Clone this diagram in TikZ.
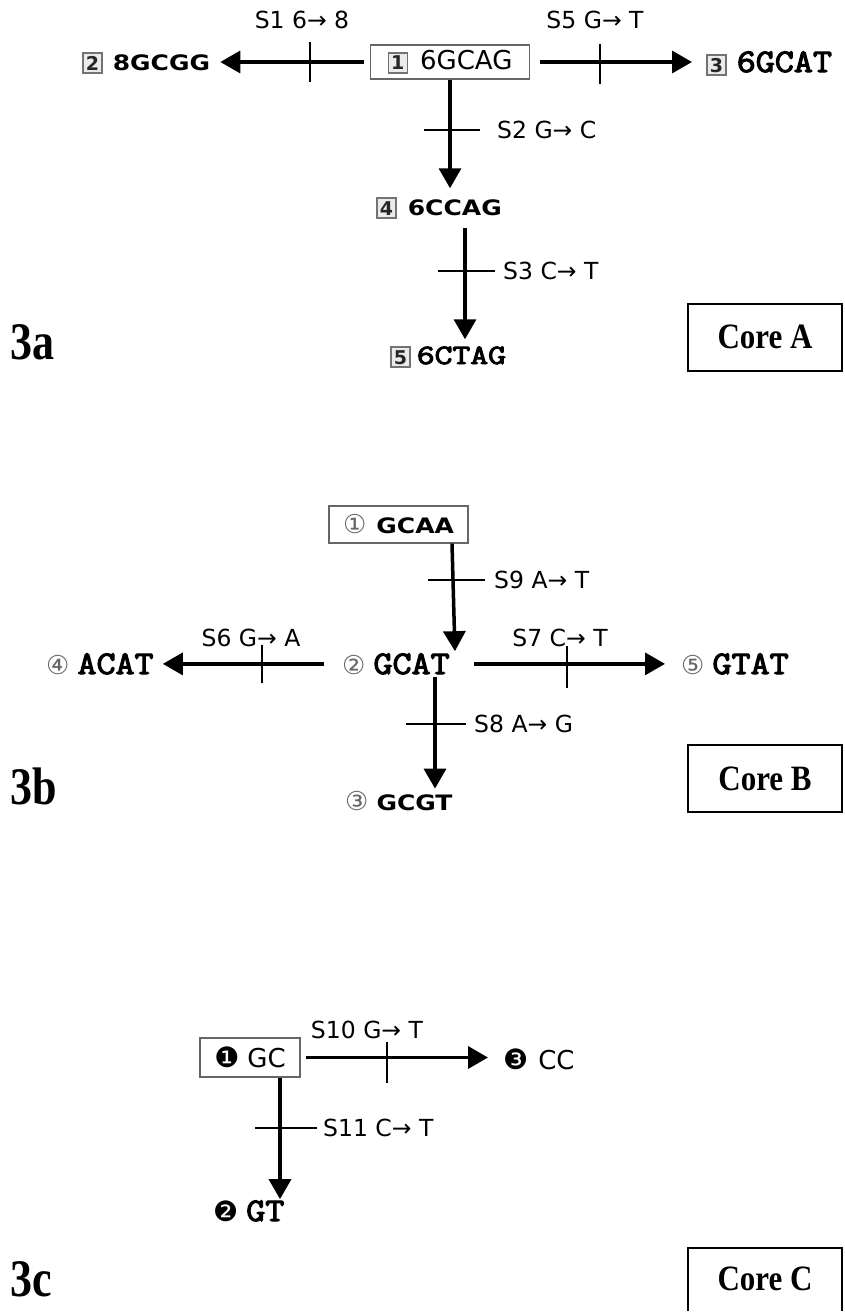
\documentclass[tikz,border=0pt]{standalone}
\usepackage{fontspec}
\usepackage{graphicx}
\usepackage{xcolor}
\setmainfont{Liberation Serif}
\newfontfamily\dv{DejaVu Sans}
\newfontfamily\cour[FakeBold=3.2]{Latin Modern Mono}
\usetikzlibrary{arrows.meta,calc}
\newcommand\sqd[1]{{\setlength\fboxsep{2.2pt}\setlength\fboxrule{1.5pt}\fcolorbox{black!55}{black!8}{\dv\bfseries\fontsize{19}{19}\selectfont\textcolor{black!85}{#1}}}}
\newcommand\cir[1]{{\dv\fontsize{26}{26}\selectfont\textcolor{black!60}{#1}}}
\newcommand\dcir[1]{{\dv\fontsize{28}{28}\selectfont #1}}
\newcommand\vb[1]{\scalebox{1}[0.85]{\dv\bfseries\fontsize{25}{25}\selectfont #1}}
\newcommand\vr[1]{{\dv\fontsize{26}{26}\selectfont #1}}
\newcommand\cb[1]{\scalebox{1.12}[1]{\cour\fontsize{33}{33}\selectfont #1}}
\newcommand\cbs[1]{\scalebox{1.05}[0.85]{\cour\fontsize{33}{33}\selectfont #1}}
\begin{document}
\begin{tikzpicture}[x=1pt,y=-1pt,
  arr/.style={line width=3.5pt,-{Triangle[length=20pt,width=22pt]}},
  tickm/.style={line width=2pt},
  lab/.style={font=\dv\fontsize{23.5}{23.5}\selectfont,inner sep=0pt},
  seq/.style={inner sep=0pt,anchor=base west},
  startbox/.style={draw=black!60,line width=1.3pt,inner sep=0pt},
  corebox/.style={draw=black,line width=2pt,inner sep=0pt,minimum width=154pt},
  panel/.style={anchor=west,inner sep=0pt}]
\useasboundingbox (0,0) rectangle (844,1312);
% ---------------- 3a
\node[startbox,minimum width=159pt,minimum height=34pt] (a1) at (450,62) {\sqd{1}\hspace{12pt}\vr{6GCAG}};
\node[seq] (a2) at (82,70) {\sqd{2}\hspace{10pt}\vb{8GCGG}};
\node[seq] (a3) at (706,72) {\sqd{3}\hspace{10pt}\cb{6GCAT}};
\node[seq] (a4) at (376,215) {\sqd{4}\hspace{11pt}\vb{6CCAG}};
\node[seq] (a5) at (390,364) {\sqd{5}\hspace{6pt}\cbs{6CTAG}};
\draw[arr,shorten <=6pt,shorten >=10pt] (a1.west) -- (a1.west -| a2.east);
\draw[arr,shorten <=10pt,shorten >=14pt] (a1.east) -- (a1.east -| a3.west);
\draw[arr,shorten >=9pt] (a1.south) -- (a1.south |- a4.north);
\draw[arr,shorten <=9pt,shorten >=7pt] (465,0 |- a4.south) -- (465,0 |- a5.north);
\draw[tickm] (310,42) -- (310,82);
\draw[tickm] (600,44) -- (600,84);
\draw[tickm] (424,130) -- (480,130);
\draw[tickm] (438,271) -- (495,271);
\node[lab] (l1) at (302,20) {S1 6→ 8};
\node[lab] (l5) at (595,20) {S5 G→ T};
\node[lab,anchor=west] (l2) at (497,130) {S2 G→ C};
\node[lab,anchor=west] (l3) at (503,271) {S3 C→ T};
\node[panel] (p3a) at (10,342) {\scalebox{1}[1.2]{\bfseries\fontsize{44}{44}\selectfont 3a}};
\node[corebox,minimum height=67pt] (ca) at (765,337) {\scalebox{1}[1.15]{\bfseries\fontsize{31}{31}\selectfont Core A}};
% ---------------- 3b
\node[startbox,minimum width=139pt,minimum height=37pt] (b1) at (398.5,524.5) {\cir{①}\hspace{10pt}\vb{GCAA}};
\node[seq] (b2) at (342,674) {\cir{②}\hspace{8pt}\cb{GCAT}};
\node[seq] (b4) at (46,674) {\cir{④}\hspace{8pt}\cb{ACAT}};
\node[seq] (b5) at (681,674) {\cir{⑤}\hspace{8pt}\cb{GTAT}};
\node[seq] (b3) at (345,810) {\cir{③}\hspace{8pt}\vb{GCGT}};
\draw[arr,shorten >=2pt] (452,0 |- b1.south) -- (455,0 |- b2.north);
\draw[arr,shorten <=18pt,shorten >=9pt] (b2.west) -- (b2.west -| b4.east);
\draw[arr,shorten <=24pt,shorten >=16pt] (b2.east) -- (b2.east -| b5.west);
\draw[arr,shorten <=2pt,shorten >=2pt] (435,0 |- b2.south) -- (435,0 |- b3.north);
\draw[tickm] (428,580) -- (485,580);
\draw[tickm] (262,645) -- (262,683);
\draw[tickm] (567,646) -- (567,688);
\draw[tickm] (406,724) -- (466,724);
\node[lab,anchor=west] (l9) at (494,580) {S9 A→ T};
\node[lab] (l6) at (251,638) {S6 G→ A};
\node[lab] (l7) at (560,638) {S7 C→ T};
\node[lab,anchor=west] (l8) at (474,724) {S8 A→ G};
\node[panel] (p3b) at (10,786) {\scalebox{1}[1.2]{\bfseries\fontsize{44}{44}\selectfont 3b}};
\node[corebox,minimum height=67pt] (cb) at (765,778.5) {\scalebox{1}[1.15]{\bfseries\fontsize{31}{31}\selectfont Core B}};
% ---------------- 3c
\node[startbox,minimum width=100pt,minimum height=39pt] (c1) at (250,1057.5) {\dcir{❶}\hspace{8pt}\vr{GC}};
\node[seq] (c3) at (503,1069) {\dcir{❸}\hspace{10pt}\vr{CC}};
\node[seq] (c2) at (213,1221) {\dcir{❷}\hspace{8pt}\cb{GT}};
\draw[arr,shorten <=5pt,shorten >=15pt] (c1.east) -- (c1.east -| c3.west);
\draw[arr,shorten >=1pt] (280,0 |- c1.south) -- (280,0 |- c2.north);
\draw[tickm] (387,1042) -- (387,1083);
\draw[tickm] (255,1128) -- (317,1128);
\node[lab] (l10) at (367,1030) {S10 G→ T};
\node[lab,anchor=west] (l11) at (323,1128) {S11 C→ T};
\node[panel] (p3c) at (10,1279) {\scalebox{1}[1.2]{\bfseries\fontsize{44}{44}\selectfont 3c}};
\draw[line width=2pt] (688,1311) -- (688,1248) -- (842,1248) -- (842,1311);
\node[inner sep=0pt] (cc) at (765,1279) {\scalebox{1}[1.15]{\bfseries\fontsize{31}{31}\selectfont Core C}};
\end{tikzpicture}
\end{document}
